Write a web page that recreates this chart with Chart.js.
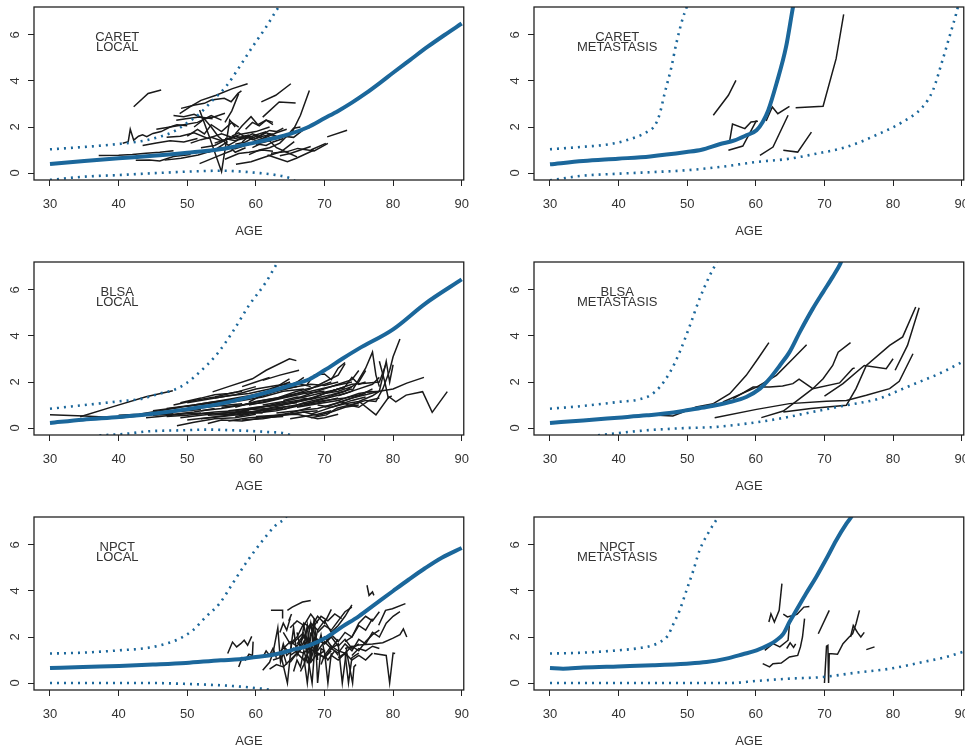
<!DOCTYPE html>
<html>
<head>
<meta charset="utf-8">
<script src="https://cdn.jsdelivr.net/npm/chart.js@4.4.0/dist/chart.umd.min.js"></script>
<style>
  html, body { margin: 0; padding: 0; background: #fff; overflow: hidden; width: 965px; height: 748px; }
  .panel { position: absolute; width: 480px; height: 255px; }
</style>
</head>
<body>
<div class="panel" style="left:0;top:0"><canvas id="p1" width="480" height="255"></canvas></div>
<div class="panel" style="left:500px;top:0"><canvas id="p2" width="480" height="255"></canvas></div>
<div class="panel" style="left:0;top:255px"><canvas id="p3" width="480" height="255"></canvas></div>
<div class="panel" style="left:500px;top:255px"><canvas id="p4" width="480" height="255"></canvas></div>
<div class="panel" style="left:0;top:510px"><canvas id="p5" width="480" height="255"></canvas></div>
<div class="panel" style="left:500px;top:510px"><canvas id="p6" width="480" height="255"></canvas></div>

<script>
// ---- axes ----
const X_TICKS = [30, 40, 50, 60, 70, 80, 90];
const Y_TICKS = [0, 2, 4, 6];

// ---- CARET / LOCAL ----
const caretLocalMeanAge = [30, 35, 40, 45, 50, 55, 57.5, 60, 62.5, 65, 67.5, 70, 72, 74, 76, 78, 80, 82.5, 85, 87.5, 90];
const caretLocalMean    = [0.39, 0.52, 0.64, 0.75, 0.88, 1.04, 1.18, 1.33, 1.5, 1.7, 1.98, 2.38, 2.7, 3.06, 3.46, 3.9, 4.36, 4.92, 5.48, 6.0, 6.5];
const caretLocalUpAge = [30, 34.8, 39.6, 44, 45.9, 47.9, 49.8, 51.8, 53.7, 55.6, 57.6, 59.5, 61.5, 63, 64];
const caretLocalUp    = [1.03, 1.13, 1.25, 1.42, 1.57, 1.78, 2.14, 2.58, 3.16, 3.74, 4.61, 5.48, 6.35, 7.07, 7.5];
const caretLocalLoAge = [30, 35, 40, 45, 50, 55, 57, 60, 63, 65, 66];
const caretLocalLo    = [-0.3, -0.16, -0.09, -0.01, 0.06, 0.1, 0.08, 0.01, -0.09, -0.23, -0.4];
const caretLocalSubjects = [
  [42.2,2.88, 44.3,3.46, 46.2,3.61],
  [40.6,1.29, 41.4,1.36, 41.7,1.9, 42.2,1.43, 42.9,1.6, 43.5,1.66, 44.1,1.58, 45,1.72, 46.2,1.8, 47.5,2.0, 48.5,2.1, 50,2.05],
  [37.1,0.76, 40,0.77, 42,0.8, 44,0.86, 46,0.9, 48,0.97],
  [42.5,0.55, 44.5,0.57, 46,0.52, 48,0.72, 50.5,0.8],
  [46.7,0.56, 49.1,0.64, 51.6,0.78, 54,1.0, 55.9,1.36],
  [48.9,2.58, 50.5,2.9, 52,3.16, 54.2,3.38, 56.6,3.67, 58.8,3.88],
  [49.1,2.81, 51.1,2.96, 52.5,3.03, 53.5,3.17, 55.4,3.25, 56.4,3.1, 57.4,3.46, 57.9,3.57],
  [60.8,3.09, 62.9,3.38, 65.1,3.88],
  [61.0,2.43, 63.4,3.09, 65.8,3.04],
  [65.3,1.78, 66.5,2.51, 67.8,3.59],
  [70.4,1.57, 73.3,1.86],
  [68.0,1.0, 70.2,1.29],
  [62.2,0.86, 64.6,0.93, 66.1,1.07, 68.5,0.96, 70.5,1.29],
  [57.1,0.38, 59.3,0.49, 60.8,0.64, 62.2,0.78, 63.7,0.93, 64.6,1.14, 65.6,1.36],
  [61.7,0.78, 64.6,0.49, 65.9,0.64, 68.5,1.0],
  [51.8,2.74, 53.2,1.6, 55,0.06, 56.2,2.3, 57,2.0],
  [48,2.5, 49.5,2.45, 51,2.55, 52.5,2.35, 54,2.45, 55.5,2.6],
  [50,1.6, 51.5,1.9, 52.5,1.7, 53.5,2.1, 55,1.8, 56.5,2.2, 57.5,2.0],
  [47,1.55, 49,1.6, 51,1.75, 53,1.5, 55,1.7, 57,1.5, 59,1.65],
  [52,1.1, 54,1.2, 56,1.5, 58,1.7, 60,1.8, 62,2.0],
  [55.5,1.5, 57,1.4, 58.5,1.6, 59.5,1.45, 61,1.6, 62.5,1.7],
  [56,1.2, 57.5,1.45, 59,1.55, 60,1.4, 61.5,1.55, 63,1.75, 64.5,1.9],
  [57,1.7, 58,2.05, 59.3,2.45, 60.3,2.1, 61.5,2.3, 62.5,2.2],
  [53,0.9, 55,1.1, 57,1.05, 59,1.25, 61,1.45, 63,1.6],
  [58,1.35, 59,1.6, 60,1.5, 61,1.7, 62,1.85, 63,1.8, 64,1.95],
  [51,2.0, 52.5,2.35, 53.5,2.0, 54.5,1.6, 56,1.2, 57,0.9, 58.5,1.1],
  [59,0.8, 60.5,1.0, 62,1.1, 63.5,1.3, 64.5,1.6, 65.5,1.95, 66.5,2.0],
  [51.8,0.41, 54.2,0.7, 56.6,0.99],
  [55.5,0.6, 57.5,0.85, 59,0.9, 61,1.0, 62.5,0.95],
  [43.5,1.2, 45.5,1.3, 47.5,1.4, 49.5,1.35, 51.5,1.5],
  [48.4,2.29, 49.8,2.36, 51.8,2.43, 53.7,2.36],
  [62.5,1.45, 64,1.6, 65.5,1.55, 67,1.9, 68,2.0],
  [60,1.25, 62,1.4, 63,1.1, 64.5,0.9, 66,0.7],
  [54,1.3, 55.5,1.45, 57,1.6, 58.5,1.5, 60,1.65, 61.5,1.8],
  [56.5,1.6, 57.5,1.75, 58.5,1.55, 59.5,1.7, 60.5,1.6, 61.5,1.75, 62.5,1.65],
  [57,1.25, 58.5,1.35, 60,1.6, 61,1.5, 62,1.7, 63,1.6],
  [45.5,1.9, 47.5,2.0, 49.5,2.1, 51.5,2.2, 53.5,2.5, 55,2.3],
  [50.5,1.3, 52,1.45, 53.5,1.55, 55,1.4, 57,1.55],
  [55.5,2.2, 56.5,2.7, 57.5,3.45],
  [58.5,1.9, 59.5,2.2, 60.5,2.05, 61.5,2.3, 62.5,2.1],
  [59.5,1.1, 60.5,1.25, 61.5,1.2, 62.5,1.35, 64,1.5],
  [63.5,0.75, 65,0.85, 66.5,1.0, 68,1.15]
];

// ---- CARET / METASTASIS ----
const caretMetMeanAge = [30, 34.85, 39.9, 44.6, 49.9, 52.1, 54.7, 56.9, 58.6, 60.1, 61, 61.8, 63, 64.4, 65.4, 65.8];
const caretMetMean    = [0.38, 0.52, 0.62, 0.72, 0.91, 1.01, 1.25, 1.42, 1.64, 1.86, 2.22, 2.72, 3.88, 5.48, 7.19, 7.8];
const caretMetUpAge = [30, 34.4, 39.2, 42.6, 44.1, 45.3, 46, 46.7, 47.7, 48.4, 49.4, 49.9, 50.2];
const caretMetUp    = [1.03, 1.13, 1.28, 1.57, 1.78, 2.07, 2.58, 3.45, 4.61, 5.62, 6.78, 7.2, 7.6];
const caretMetLoAge = [30, 34.4, 39.9, 45, 49.9, 54.7, 60.1, 64.9, 68.3, 73.2, 78, 81.4, 84.3, 85.8, 87.2, 88.2, 89.2, 89.6];
const caretMetLo    = [-0.32, -0.13, -0.03, 0.04, 0.12, 0.26, 0.48, 0.62, 0.81, 1.13, 1.71, 2.22, 2.87, 3.59, 4.9, 5.91, 6.93, 7.4];
const caretMetSubjects = [
  [53.8,2.51, 56,3.38, 57.1,4.03],
  [56.2,1.42, 56.6,2.13, 58.4,1.93, 59.3,2.22, 60.3,2.25],
  [56,0.99, 58.1,1.17, 60.1,2.29],
  [61.5,2.26, 62.4,2.87, 63.2,2.58, 64.9,2.9],
  [60.6,0.77, 62.5,1.13, 64.7,2.51],
  [64,0.99, 66.1,0.91, 68.1,1.78],
  [65.8,2.84, 69.8,2.9, 71.7,4.97, 72.8,6.9]
];

// ---- BLSA / LOCAL ----
const blsaLocalMeanAge = [30, 34.8, 40.1, 45, 49.8, 54.9, 60, 65.1, 67.8, 70, 72.6, 75, 80, 84.7, 90];
const blsaLocalMean    = [0.22, 0.36, 0.48, 0.62, 0.81, 1.06, 1.42, 1.86, 2.12, 2.51, 3.01, 3.45, 4.29, 5.41, 6.46];
const blsaLocalUpAge = [30, 34.8, 40.1, 43.5, 45.9, 47.9, 49.8, 51.8, 54.2, 56.6, 59, 61.5, 63.2, 64];
const blsaLocalUp    = [0.84, 0.99, 1.16, 1.28, 1.49, 1.64, 1.93, 2.43, 3.16, 4.17, 5.33, 6.35, 7.22, 7.6];
const blsaLocalLoAge = [37.2, 41.1, 44.5, 49.3, 53, 56.6, 61.5, 64.9, 65.5];
const blsaLocalLo    = [-0.32, -0.25, -0.14, -0.1, -0.07, -0.1, -0.17, -0.29, -0.4];
const blsaLocalSubjects = [
  [30,0.58, 35,0.52, 40,0.45],
  [34.4,0.49, 39.2,0.93, 44,1.36, 47.9,1.62],
  [36,0.4, 40,0.48, 44,0.6, 48,0.62],
  [40,0.43, 44,0.55, 48,0.7, 52,0.8],
  [45,0.75, 49,0.9, 53,1.1, 57,1.25],
  [47,0.85, 51,1.0, 55,1.2, 59,1.4, 62,1.6],
  [48.5,0.1, 51,0.25, 54,0.4, 57,0.45, 60,0.6],
  [49,1.1, 52,1.3, 54,1.45, 56,1.5, 58,1.6],
  [50,0.95, 53,1.05, 56,1.2, 60,1.4, 63,1.6, 66,1.8],
  [53.7,1.57, 56,1.8, 59.5,2.14, 61.5,2.51, 64.9,3.01, 65.9,2.93],
  [61,2.07, 63.5,2.3, 66.3,2.51],
  [59,1.13, 62,1.6, 64.9,2.14],
  [51,0.6, 54,0.7, 57,0.75, 60,0.9, 63,1.0, 66,1.1],
  [52,0.4, 55,0.5, 58,0.6, 61,0.75, 64,0.85],
  [54,1.3, 57,1.45, 60,1.7, 63,1.85, 66,1.95, 68,1.8],
  [56,0.3, 59,0.45, 62,0.5, 65,0.65, 68,0.9],
  [55,0.9, 58,1.0, 61,1.1, 64,1.3, 67,1.5, 70,1.6],
  [58,0.6, 61,0.8, 64,1.0, 67,1.2, 70,1.5, 72,1.7],
  [60,0.5, 63,0.55, 66,0.6, 69,0.4, 70,0.45, 72,0.6],
  [62,1.2, 65,1.4, 68,1.7, 70,2.0, 72,2.3, 73,2.8],
  [67.5,1.9, 68.5,2.3, 70,2.35, 71,2.1, 72,2.6, 73,2.85],
  [64,0.8, 67,1.1, 70,1.3, 73,1.6, 75,2.0, 76,2.5],
  [66,0.9, 69,1.05, 72,1.2, 75,1.5, 77,1.6],
  [68,0.6, 70,0.8, 72,1.0, 74,1.2, 76,1.35],
  [69,1.0, 71,0.9, 73,1.05, 75,1.15, 77,1.4, 78,1.6, 79,2.9, 79.5,2.0, 80,2.75],
  [70,1.5, 72,1.7, 74,1.9, 76,1.95, 78,2.0, 79,2.8],
  [72,1.4, 74,1.6, 76,2.6, 77,3.3, 77.5,2.3, 78,1.8],
  [74,1.0, 76,1.2, 77.5,1.15, 78.5,1.7, 79.5,2.5, 80,3.1, 81,3.87],
  [75.1,1.14, 77.5,0.57, 79.4,1.36, 80.4,1.14, 81.9,1.43, 84.3,1.58, 85.7,0.68, 87.9,1.58],
  [76,1.55, 78,1.6, 80,1.7, 82,1.95, 84.5,2.2],
  [68,0.45, 70.3,0.57, 71.8,0.86, 73.7,1.0, 75,1.1],
  [78,2.9, 78.8,2.0, 79.3,1.3, 79.8,1.4],
  [65,0.4, 67,0.5, 69,0.6, 71,0.75],
  [57,0.9, 60,1.15, 63,1.3, 66,1.6, 69,1.8, 71,2.0],
  [45,0.55, 48,0.6, 51,0.7, 54,0.85],
  [50,0.35, 53,0.45, 56,0.55, 59,0.7, 62,0.8],
  [56,0.75, 59,0.85, 62,0.95, 65,1.1, 68,1.25, 71,1.45, 74,1.7],
  [60,1.3, 62,1.5, 64,1.7, 66,2.0, 67,2.2],
  [63,0.65, 66,0.75, 69,0.85, 72,1.1, 75,1.4, 77,1.7],
  [58,1.8, 60,2.0, 62,2.2],
  [72,1.2, 73.5,1.0, 75,0.9, 76.5,1.2, 78,1.3],
  [47,0.5, 50,0.55, 53,0.65, 56,0.6, 59,0.75],
  [53,0.2, 55,0.35, 58,0.3, 61,0.45, 64,0.5],
  [66,1.3, 68,1.5, 70,1.7, 72,1.9, 74,2.1, 75,2.5],
  [61,1.0, 64,1.15, 67,1.35, 70,1.55, 73,1.75],
  [46,0.7, 50,0.8, 54,0.95, 58,1.05],
  [48,1.0, 51,1.2, 54,1.35, 57,1.55, 60,1.8],
  [50,1.1, 53,1.25, 56,1.4, 59,1.5, 62,1.7, 65,2.0],
  [52,0.75, 55,0.85, 58,1.0, 61,1.2, 64,1.35],
  [54,0.6, 57,0.7, 60,0.85, 63,1.05, 66,1.2, 69,1.35],
  [55,1.05, 58,1.2, 61,1.35, 64,1.6, 67,1.7],
  [57,0.5, 60,0.65, 63,0.75, 66,0.95, 69,1.1, 72,1.3],
  [59,1.0, 62,1.2, 65,1.45, 68,1.6, 71,1.8, 74,2.0],
  [61,0.7, 64,0.9, 67,1.05, 70,1.2, 73,1.3, 76,1.5],
  [62,1.55, 65,1.75, 68,1.9, 70,1.85, 72,2.0],
  [64,1.2, 66,1.35, 68,1.25, 70,1.5, 72,1.6, 74,1.8],
  [65,0.6, 67,0.7, 69,0.55, 71,0.7, 73,0.9, 75,1.0],
  [67,1.0, 69,1.2, 71,1.35, 73,1.5, 75,1.7, 77,1.9, 78,2.2],
  [70,0.9, 72,1.1, 74,1.3, 76,1.45, 78,1.6],
  [71,1.6, 73,1.8, 74,2.2, 75,1.9, 76,2.0],
  [53,0.55, 56,0.6, 59,0.8, 62,0.85, 65,0.95],
  [49,0.45, 52,0.55, 55,0.65, 58,0.7, 61,0.65],
  [58,0.35, 61,0.4, 64,0.55, 67,0.7, 69,0.75],
  [44,0.45, 46,0.5, 49,0.6, 52,0.65],
  [40,0.55, 43,0.6, 46,0.75, 49,0.9]
];

// ---- BLSA / METASTASIS ----
const blsaMetMeanAge = [30, 34.85, 39.9, 44.1, 48, 49.9, 52.8, 56.2, 58.6, 60.6, 62, 63.5, 64.9, 66.4, 68.3, 69.8, 71.2, 72.3, 72.8];
const blsaMetMean    = [0.22, 0.33, 0.45, 0.55, 0.67, 0.77, 0.91, 1.13, 1.35, 1.71, 2.14, 2.72, 3.3, 4.17, 5.19, 5.91, 6.57, 7.14, 7.5];
const blsaMetUpAge = [30, 34.85, 39.9, 43.1, 44.6, 46, 47.5, 48.9, 50.4, 51.8, 53.3, 54.3, 54.8];
const blsaMetUp    = [0.84, 0.96, 1.13, 1.25, 1.42, 1.78, 2.43, 3.3, 4.46, 5.62, 6.64, 7.22, 7.6];
const blsaMetLoAge = [37, 39.9, 44.1, 49.9, 53.8, 58.6, 63.5, 68.3, 73.2, 78, 80.9, 83.8, 86.7, 89.6, 90.5];
const blsaMetLo    = [-0.32, -0.22, -0.1, 0, 0.04, 0.19, 0.41, 0.7, 0.99, 1.28, 1.64, 2.0, 2.36, 2.8, 2.95];
const blsaMetSubjects = [
  [44.3,0.58, 47.9,0.52, 51.3,0.91, 53.8,1.06],
  [53.8,1.06, 56.2,1.49, 58.6,2.29, 60.3,3.01, 61.9,3.71],
  [55.2,1.13, 60.1,1.78, 63,2.29, 65.4,3.01, 67.4,3.62],
  [56.7,1.28, 59.6,1.78, 62,1.78, 63.9,1.83, 65.4,1.93, 66.3,2.12, 68.3,1.71, 72.2,1.96, 74.1,2.58, 74.4,2.61],
  [54,0.45, 60.1,0.81, 64.9,1.06, 70.3,1.16, 73.2,1.2, 76.1,1.42, 79.5,1.71, 80.9,2.03, 82.9,3.23],
  [60.8,0.45, 64,0.74, 66.4,1.28, 68.3,1.71, 69.8,2.14, 71.2,2.72, 72,3.3, 73.8,3.71],
  [64,0.7, 68,0.85, 73.2,0.99, 74.6,1.71, 76.1,2.72, 79.5,3.59, 81.4,3.96, 83.3,5.26],
  [70,1.39, 72.7,1.93, 75.8,2.72, 79,2.58, 80,3.01],
  [80.3,2.51, 82.1,3.59, 83.8,5.23]
];

// ---- NPCT / LOCAL ----
const npctLocalMeanAge = [30, 34.8, 40.1, 45, 49.8, 54.9, 57.6, 60, 62.9, 65.1, 67.8, 70, 72.6, 75, 77.5, 80, 82.3, 84.7, 87.1, 90];
const npctLocalMean    = [0.65, 0.7, 0.74, 0.8, 0.87, 0.99, 1.03, 1.13, 1.25, 1.42, 1.64, 1.93, 2.45, 2.9, 3.45, 4.0, 4.5, 5.0, 5.45, 5.87];
const npctLocalUpAge = [30, 34.8, 40.1, 44.5, 46.9, 48.9, 50.8, 52.7, 54.7, 56.6, 58.5, 61, 62.9, 64.4, 65];
const npctLocalUp    = [1.28, 1.32, 1.42, 1.54, 1.71, 1.93, 2.29, 2.87, 3.45, 4.32, 5.19, 6.2, 6.86, 7.22, 7.6];
const npctLocalLoAge = [30, 34.8, 40.1, 45, 48.9, 52.7, 56.6, 60, 62.4, 63];
const npctLocalLo    = [0, 0, 0, 0, -0.03, -0.07, -0.13, -0.22, -0.32, -0.4];
const npctLocalSubjects = [
  [55.9,1.28, 56.6,1.78, 57.2,1.57, 57.8,1.71, 58.3,1.86, 58.8,1.64, 59.4,2.03],
  [57.5,0.7, 58,1.1, 58.5,1.0, 59,1.25, 59.5,1.2, 59.6,1.8],
  [61,0.55, 62,0.9, 62.5,1.3, 63.2,2.4, 63.6,0.9, 64,1.3, 64.5,0.8],
  [62.2,3.16, 63.9,3.16, 63.9,2.8],
  [64.6,3.16, 65.3,3.3, 66.8,3.52, 68,3.59],
  [65.2,3.0, 64.8,2.7],
  [76.2,4.25, 76.5,3.81, 77,3.96, 77.2,3.81],
  [77.2,1.28, 79,1.2, 79.5,0, 80,1.3, 80.3,1.28],
  [73,1.5, 75,1.65, 77,1.7, 78.5,1.75, 80,1.95, 81,2.1, 81.5,2.35, 82,2.0],
  [77.9,2.51, 78.9,3.16, 79.9,3.23, 81.8,3.45],
  [65,0.9, 66,1.3, 67,1.6, 67.5,2.5, 68,0.9, 68.5,2.8, 69,1.0],
  [63.5,1.4, 64.6,0, 65.2,1.7, 66,1.9, 67,2.2],
  [67.2,1.8, 68.2,0, 68.7,2.0, 69,0, 69.5,1.5, 70,1.4],
  [71,1.5, 72,1.7, 72.6,0, 73.2,1.4, 74.1,0, 74.3,0.7, 74.6,0.8],
  [64,2.2, 65,1.7, 66,2.0, 67,2.6, 68,2.4, 69,2.9, 70,2.6, 71,3.2],
  [67,2.0, 68,2.6, 69,2.3, 70,2.7, 71,2.2, 72,2.5, 73,2.9, 74,3.4],
  [68,1.6, 69,1.9, 70,1.7, 71,2.1, 72,1.8, 73,2.2, 74,2.0, 75,2.5, 76,2.3, 77,2.8],
  [65,1.2, 66,1.4, 67,1.3, 68,1.6, 69,1.4, 70,1.8, 71,1.5, 72,1.9],
  [69,1.3, 70,1.1, 71,1.5, 72,1.3, 73,1.7, 74,1.4, 75,1.9, 76,1.7, 77,2.2, 78,2.0, 79,2.6, 80,2.9, 81,3.1],
  [70,1.2, 71,1.6, 72,1.4, 73,1.3, 74,1.6, 75,1.4, 76,1.8, 77,2.1, 78,2.3],
  [66,1.7, 67,2.1, 67.7,1.5, 68.3,2.4, 69,1.7, 70,2.0, 71,1.6],
  [63,1.2, 64,1.5, 65,1.8, 66,1.6, 67,2.0, 68,1.7, 69,1.9],
  [62,0.6, 63,0.8, 64,0.7, 65,1.0, 66,1.3, 67,1.0, 68,1.5, 69,1.2],
  [66.5,0.5, 67,0.8, 67.5,1.2, 68,0.9, 69,1.3, 70,1.1, 71,1.4],
  [72,1.1, 73,1.3, 74,1.0, 75,1.2, 76,1.0, 77,1.3],
  [65,2.4, 66,2.7, 67,2.5, 68,3.0, 69,2.6],
  [63.5,2.2, 64,2.6, 64.5,2.3, 65,2.8],
  [73,1.8, 74,2.0, 75,2.6, 76,2.9, 77,2.7, 78,3.1],
  [61,1.1, 61.5,1.4, 62,1.2, 62.5,1.5, 63,1.1],
  [69,2.2, 70,2.5, 71,2.3, 72,2.7, 73,3.1, 74,3.3],
  [68,1.0, 68.5,1.5, 69,1.2, 70,1.4, 70.5,0, 71,1.3],
  [64,1.6, 65,1.3, 65.5,2.4, 66,1.2, 67,1.8, 67.5,1.3, 68,2.2],
  [66,2.2, 66.5,1.5, 67,2.5, 67.5,1.8, 68,2.6, 68.5,1.6, 69,2.3],
  [67,1.1, 67.5,0, 68,1.4, 68.5,2.0, 69,1.5, 69.5,2.1, 70,1.3],
  [65.5,0.5, 66,1.0, 66.5,0.7, 67,1.4, 67.5,0.9, 68,1.1],
  [70,1.7, 71,2.0, 72,1.6, 73,1.9, 74,1.5, 75,1.7],
  [71,1.2, 72,1.0, 73,1.3, 73.5,0, 74,1.1, 75,1.3],
  [62.5,1.0, 63.5,1.1, 64,1.7, 64.5,1.2, 65.5,1.5, 66,1.3],
  [68.5,2.5, 69.5,2.9, 70.5,2.7, 71.5,3.0, 72.5,2.8],
  [74,1.2, 75,1.5, 76,1.4, 77,1.6, 78,1.5],
  [69.5,0.8, 70,1.2, 70.5,1.0, 71.5,1.4, 72,1.2]
];

// ---- NPCT / METASTASIS ----
const npctMetMeanAge = [30, 31.9, 34.85, 39.9, 45, 49.9, 52.8, 55.7, 58.1, 60.1, 62, 63, 64, 64.9, 65.9, 67.3, 68.8, 70.3, 71.7, 73.2, 73.9, 74.4];
const npctMetMean    = [0.65, 0.62, 0.67, 0.72, 0.77, 0.84, 0.91, 1.06, 1.25, 1.42, 1.67, 1.86, 2.14, 2.65, 3.16, 3.88, 4.61, 5.41, 6.2, 6.93, 7.22, 7.5];
const npctMetUpAge = [30, 34.85, 39.9, 43.1, 45, 46.2, 47.2, 47.9, 48.9, 49.9, 50.9, 51.8, 53.3, 54.5, 55];
const npctMetUp    = [1.28, 1.32, 1.42, 1.52, 1.64, 1.81, 2.07, 2.51, 3.16, 4.03, 4.9, 5.77, 6.64, 7.22, 7.5];
const npctMetLoAge = [30, 39.9, 49.9, 56.2, 60.1, 64.9, 69.8, 74.6, 79.5, 84.3, 87.7, 90.5];
const npctMetLo    = [0, 0, 0, 0, 0.09, 0.19, 0.26, 0.45, 0.62, 0.91, 1.13, 1.38];
const npctMetSubjects = [
  [61.9,2.65, 62.2,3.01, 62.7,2.65, 63.4,3.16, 63.8,4.32],
  [64,2.99, 64.6,2.87, 66,2.99, 67,3.3, 67.8,3.33],
  [61.3,1.42, 62.5,1.71, 63.5,1.57, 64.7,1.86, 64.9,2.58, 65.2,2.87],
  [64.5,1.5, 65,1.75, 65.5,1.55, 65.8,1.7],
  [61,0.84, 62,0.7, 62.5,0.84, 63.7,0.87, 64.9,1.13, 66.1,1.2, 66.5,1.57, 66.8,2.0, 67.1,2.8],
  [69.1,2.14, 70.7,3.16],
  [70,0, 70.3,1.6, 70.5,1.64, 70.6,0, 70.7,1.28, 71.9,1.25, 72.7,1.71, 73.6,2.0, 74.1,2.14, 74.6,2.58, 75.1,3.16],
  [73.8,2.0, 74.2,2.5, 74.8,2.2, 75.3,2.0, 75.8,2.2],
  [76.1,1.45, 77.3,1.57]
];

// ---- style ----
const INK = '#1a1a1a';
const BLUE = '#1b679b';
const TEXT = '#333333';
const FONT = '"Liberation Sans", Arial, Helvetica, sans-serif';

function pts(flat) {
  const out = [];
  for (let i = 0; i < flat.length; i += 2) out.push({ x: flat[i], y: flat[i + 1] });
  return out;
}
function zip(ages, vals) { return ages.map((a, i) => ({ x: a, y: vals[i] })); }

function curve(ages, vals, dotted) {
  return {
    data: zip(ages, vals),
    borderColor: BLUE,
    borderWidth: dotted ? 2.6 : 4,
    borderDash: dotted ? [2, 5] : [],
    cubicInterpolationMode: 'monotone',
    pointRadius: 0,
    clip: 0
  };
}
function subjects(list) {
  return list.map(s => ({
    data: pts(s), borderColor: INK, borderWidth: 1.5, pointRadius: 0, tension: 0, clip: 0
  }));
}

// box, rotated y tick labels and the two-line panel label
const framePlugin = {
  id: 'frame',
  afterDraw(chart, args, opts) {
    const { ctx, chartArea: a, scales: { x, y } } = chart;
    ctx.save();
    ctx.strokeStyle = '#222';
    ctx.lineWidth = 1.3;
    ctx.strokeRect(a.left, a.top, a.right - a.left, a.bottom - a.top);
    ctx.fillStyle = TEXT;
    ctx.font = '13px ' + FONT;
    ctx.textAlign = 'center';
    ctx.textBaseline = 'middle';
    Y_TICKS.forEach(v => {
      ctx.save();
      ctx.translate(a.left - 19, y.getPixelForValue(v));
      ctx.rotate(-Math.PI / 2);
      ctx.fillText(String(v), 0, 0);
      ctx.restore();
    });
    ctx.fillText(opts.label[0], x.getPixelForValue(39.8), y.getPixelForValue(5.88));
    ctx.fillText(opts.label[1], x.getPixelForValue(39.8), y.getPixelForValue(5.48));
    ctx.restore();
  }
};

function makePanel(id, label, mean, up, lo, subj) {
  new Chart(document.getElementById(id), {
    type: 'line',
    data: { datasets: [curve(mean[0], mean[1], false), curve(up[0], up[1], true), curve(lo[0], lo[1], true)].concat(subjects(subj)) },
    options: {
      responsive: false,
      animation: false,
      layout: { padding: { top: 7, right: 15, left: 0, bottom: 0 } },
      plugins: { legend: { display: false }, tooltip: { enabled: false }, frame: { label } },
      scales: {
        x: {
          type: 'linear', min: 27.67, max: 90.3,
          afterBuildTicks: s => { s.ticks = X_TICKS.map(v => ({ value: v })); },
          afterFit: s => { s.height = 75; },
          border: { display: false },
          grid: { drawOnChartArea: false, drawTicks: true, tickLength: 6, color: '#222', lineWidth: 1 },
          ticks: { color: TEXT, font: { family: FONT, size: 13 }, padding: 11, maxRotation: 0, autoSkip: false },
          title: { display: true, text: 'AGE', color: TEXT, font: { family: FONT, size: 13 }, padding: { top: 0, bottom: 16 } }
        },
        y: {
          type: 'linear', min: -0.304, max: 7.217,
          afterBuildTicks: s => { s.ticks = Y_TICKS.map(v => ({ value: v })); },
          afterFit: s => { s.width = 34; },
          border: { display: false },
          grid: { drawOnChartArea: false, drawTicks: true, tickLength: 6, color: '#222', lineWidth: 1 },
          ticks: { display: false }
        }
      }
    },
    plugins: [framePlugin]
  });
}

makePanel('p1', ['CARET', 'LOCAL'], [caretLocalMeanAge, caretLocalMean], [caretLocalUpAge, caretLocalUp], [caretLocalLoAge, caretLocalLo], caretLocalSubjects);
makePanel('p2', ['CARET', 'METASTASIS'], [caretMetMeanAge, caretMetMean], [caretMetUpAge, caretMetUp], [caretMetLoAge, caretMetLo], caretMetSubjects);
makePanel('p3', ['BLSA', 'LOCAL'], [blsaLocalMeanAge, blsaLocalMean], [blsaLocalUpAge, blsaLocalUp], [blsaLocalLoAge, blsaLocalLo], blsaLocalSubjects);
makePanel('p4', ['BLSA', 'METASTASIS'], [blsaMetMeanAge, blsaMetMean], [blsaMetUpAge, blsaMetUp], [blsaMetLoAge, blsaMetLo], blsaMetSubjects);
makePanel('p5', ['NPCT', 'LOCAL'], [npctLocalMeanAge, npctLocalMean], [npctLocalUpAge, npctLocalUp], [npctLocalLoAge, npctLocalLo], npctLocalSubjects);
makePanel('p6', ['NPCT', 'METASTASIS'], [npctMetMeanAge, npctMetMean], [npctMetUpAge, npctMetUp], [npctMetLoAge, npctMetLo], npctMetSubjects);
</script>
</body>
</html>
